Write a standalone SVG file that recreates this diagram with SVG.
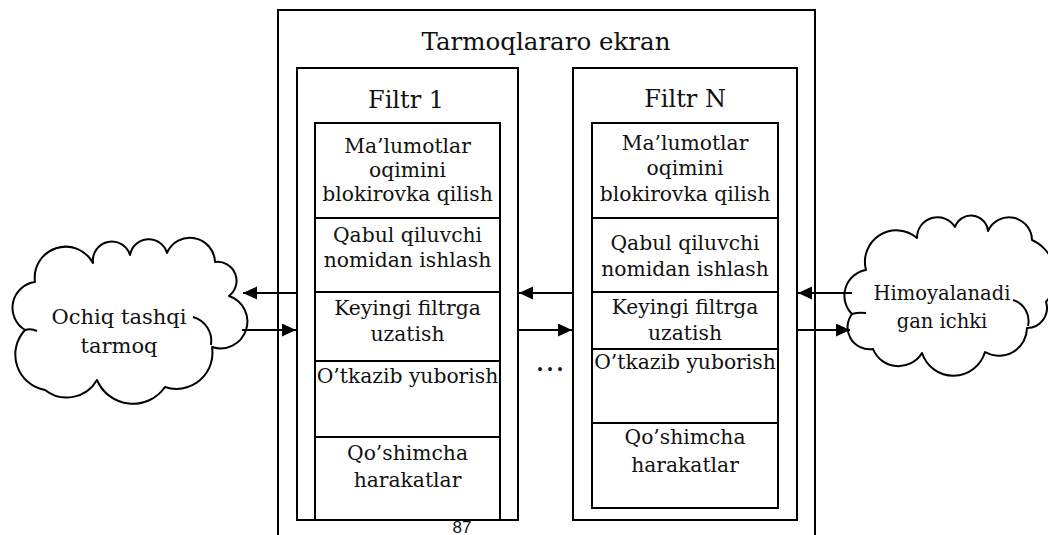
<svg xmlns="http://www.w3.org/2000/svg" width="1048" height="535" viewBox="0 0 1048 535">
<style>
.box{fill:none;stroke:#000;stroke-width:2}
.cloud{fill:#fff;stroke:#000;stroke-width:2;stroke-linejoin:round}
.tick{fill:none;stroke:#000;stroke-width:2}
.t{fill:#111;text-anchor:middle;font-family:'DejaVu Serif','Liberation Serif',serif}
.s20{font-size:20.3px}
.s24{font-size:24px}
.s25{font-size:24.5px}
.s21{font-size:21px}
.s19{font-size:19.5px}
.conn{stroke:#000;stroke-width:1.8;fill:none}
</style>
<defs>
<marker id="ah" markerUnits="userSpaceOnUse" markerWidth="16" markerHeight="14" refX="14" refY="6.5" orient="auto">
<path d="M0,0 L14,6.5 L0,13 Z" fill="#000"/>
</marker>
</defs>
<rect width="1048" height="535" fill="#fff"/>
<g id="firewall">
<path class="box" d="M278,545 V10 H815 V545"/>
<text class="t s25" x="546" y="50">Tarmoqlararo ekran</text>
</g>

<g id="filter1">
<rect class="box" x="297" y="68" width="221" height="452"/>
<text class="t s24" x="406" y="108">Filtr 1</text>
<rect class="box" x="315" y="123" width="185" height="397"/>
<line class="box" x1="315" y1="218" x2="500" y2="218"/>
<line class="box" x1="315" y1="292" x2="500" y2="292"/>
<line class="box" x1="315" y1="361" x2="500" y2="361"/>
<line class="box" x1="315" y1="437" x2="500" y2="437"/>
<text class="t s20" x="407.5" y="153">Ma’lumotlar</text>
<text class="t s20" x="407.5" y="177">oqimini</text>
<text class="t s20" x="407.5" y="201">blokirovka qilish</text>
<text class="t s20" x="407.5" y="242">Qabul qiluvchi</text>
<text class="t s20" x="407.5" y="267">nomidan ishlash</text>
<text class="t s20" x="407.5" y="315">Keyingi filtrga</text>
<text class="t s20" x="407.5" y="341">uzatish</text>
<text class="t s20" x="407.5" y="383">O’tkazib yuborish</text>
<text class="t s20" x="407.5" y="460">Qo’shimcha</text>
<text class="t s20" x="407.5" y="487">harakatlar</text>
</g>

<g id="filterN">
<rect class="box" x="573" y="68" width="224" height="452"/>
<text class="t s24" x="685" y="107">Filtr N</text>
<rect class="box" x="592" y="123" width="186" height="385"/>
<line class="box" x1="592" y1="218" x2="778" y2="218"/>
<line class="box" x1="592" y1="292" x2="778" y2="292"/>
<line class="box" x1="592" y1="349" x2="778" y2="349"/>
<line class="box" x1="592" y1="423" x2="778" y2="423"/>
<text class="t s20" x="685" y="150">Ma’lumotlar</text>
<text class="t s20" x="685" y="175">oqimini</text>
<text class="t s20" x="685" y="201">blokirovka qilish</text>
<text class="t s20" x="685" y="250">Qabul qiluvchi</text>
<text class="t s20" x="685" y="276">nomidan ishlash</text>
<text class="t s20" x="685" y="314">Keyingi filtrga</text>
<text class="t s20" x="685" y="340">uzatish</text>
<text class="t s20" x="685" y="369">O’tkazib yuborish</text>
<text class="t s20" x="685" y="444">Qo’shimcha</text>
<text class="t s20" x="685" y="472">harakatlar</text>
</g>

<g id="outer-net">
<path class="cloud" d="M35,282 A31,31 0 0 1 93,263 A19,19 0 0 1 130,255 A19,19 0 0 1 167,253 A25,25 0 0 1 215,262 A19,19 0 0 1 229,296 A26,26 0 0 1 212,347 A36,36 0 0 1 165,387 A39,39 0 0 1 97,380 A35,35 0 0 1 45,390 A36,36 0 0 1 25,330 A26,26 0 0 1 35,282 Z"/>
<path class="tick" d="M193,317 A25,25 0 0 1 211,345"/>
<path class="tick" d="M25,330 Q31,328 37,331"/>
<text class="t s21" x="119" y="324">Ochiq tashqi</text>
<text class="t s21" x="119" y="353">tarmoq</text>
</g>

<g id="inner-net">
<path class="cloud" d="M866,270 A31.5,31.5 0 0 1 917,238 A20.5,20.5 0 0 1 955,227 A17,17 0 0 1 988,231 A23,23 0 0 1 1032,240 A40,40 0 0 1 1046,302 A20,20 0 0 1 1027,328 A28,28 0 0 1 985,352 A33,33 0 0 1 922,353 A27.5,27.5 0 0 1 873,349 A22,22 0 0 1 852,314 A26,26 0 0 1 866,270 Z"/>
<path class="tick" d="M1013,300 A22,22 0 0 1 1028,326"/>
<path class="tick" d="M852,314 Q858,312 866,313"/>
<text class="t s19" x="942" y="300">Himoyalanadi</text>
<text class="t s19" x="942" y="328">gan ichki</text>
</g>

<text class="t" x="550" y="371" font-size="30">…</text>

<g id="connectors">
<line class="conn" x1="297" y1="293" x2="243" y2="293" marker-end="url(#ah)"/>
<line class="conn" x1="242" y1="330" x2="296" y2="330" marker-end="url(#ah)"/>
<line class="conn" x1="573" y1="293" x2="519" y2="293" marker-end="url(#ah)"/>
<line class="conn" x1="518" y1="330" x2="572" y2="330" marker-end="url(#ah)"/>
<line class="conn" x1="852" y1="293" x2="798" y2="293" marker-end="url(#ah)"/>
<line class="conn" x1="797" y1="330" x2="850" y2="330" marker-end="url(#ah)"/>
</g>

<text x="462" y="533" font-family="Liberation Sans, Arial, sans-serif" font-size="17" fill="#111" text-anchor="middle">87</text>
</svg>
